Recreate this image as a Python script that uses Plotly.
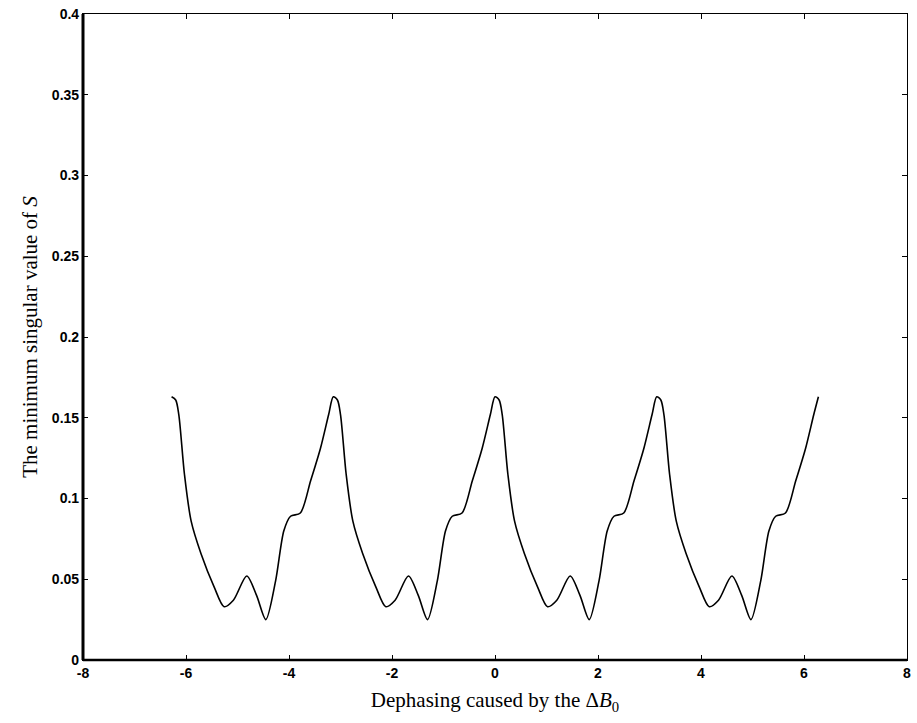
import plotly.graph_objects as go

# Values (peaks at multiples of pi)
x_vals = [
    -6.28, -6.20, -6.14, -6.03, -5.90, -5.71, -5.45, -5.26, -5.08, -4.82, -4.63, -4.45, -4.26, -4.10, -3.97, -3.78, -3.58, -3.39, -3.23,
    -3.14, -3.06, -3.00, -2.89, -2.76, -2.57, -2.31, -2.12, -1.94, -1.68, -1.49, -1.31, -1.12, -0.96, -0.83, -0.64, -0.44, -0.25, -0.09,
    0.00, 0.08, 0.14, 0.25, 0.38, 0.57, 0.83, 1.02, 1.20, 1.46, 1.65, 1.83, 2.02, 2.18, 2.31, 2.50, 2.70, 2.89, 3.05,
    3.14, 3.22, 3.28, 3.39, 3.52, 3.71, 3.97, 4.16, 4.34, 4.60, 4.79, 4.97, 5.16, 5.32, 5.45, 5.64, 5.84, 6.03, 6.19,
    6.28,
]
y_vals = [
    0.163, 0.161, 0.152, 0.115, 0.086, 0.066, 0.045, 0.033, 0.037, 0.052, 0.040, 0.025, 0.049, 0.080, 0.089, 0.091, 0.111, 0.131, 0.152,
    0.163, 0.161, 0.152, 0.115, 0.086, 0.066, 0.045, 0.033, 0.037, 0.052, 0.040, 0.025, 0.049, 0.080, 0.089, 0.091, 0.111, 0.131, 0.152,
    0.163, 0.161, 0.152, 0.115, 0.086, 0.066, 0.045, 0.033, 0.037, 0.052, 0.040, 0.025, 0.049, 0.080, 0.089, 0.091, 0.111, 0.131, 0.152,
    0.163, 0.161, 0.152, 0.115, 0.086, 0.066, 0.045, 0.033, 0.037, 0.052, 0.040, 0.025, 0.049, 0.080, 0.089, 0.091, 0.111, 0.131, 0.152,
    0.163,
]

x_ticks = [-8, -6, -4, -2, 0, 2, 4, 6, 8]
y_ticks = [0, 0.05, 0.1, 0.15, 0.2, 0.25, 0.3, 0.35, 0.4]
y_tick_labels = ["0", "0.05", "0.1", "0.15", "0.2", "0.25", "0.3", "0.35", "0.4"]

fig = go.Figure()
fig.add_trace(go.Scatter(
    x=x_vals, y=y_vals, mode="lines",
    line=dict(color="black", width=1.6, shape="spline", smoothing=0.8),
    showlegend=False,
))

tickfont = dict(family="Liberation Sans, Arial", size=14, color="black", weight="bold")
fig.update_xaxes(
    range=[-8, 8], tickvals=x_ticks, ticktext=[str(v) for v in x_ticks],
    ticks="inside", ticklen=5, tickwidth=1, tickcolor="black",
    showline=True, linecolor="black", linewidth=1.2, mirror="ticks",
    showgrid=False, zeroline=False, tickfont=tickfont,
    title=dict(text="Dephasing caused by the Δ<i>B</i><sub>0</sub>",
               font=dict(family="Liberation Serif, DejaVu Serif", size=21, color="black"),
               standoff=12),
)
fig.update_yaxes(
    range=[0, 0.4], tickvals=y_ticks, ticktext=y_tick_labels,
    ticks="inside", ticklen=5, tickwidth=1, tickcolor="black",
    showline=True, linecolor="black", linewidth=1.2, mirror="ticks",
    showgrid=False, zeroline=False, tickfont=tickfont,
    title=dict(text="The minimum singular value of <i>S</i>",
               font=dict(family="Liberation Serif, DejaVu Serif", size=21, color="black"),
               standoff=8),
)

# thicker left and bottom axis lines
fig.add_shape(type="line", xref="paper", yref="paper", x0=0, x1=0, y0=0, y1=1,
              line=dict(color="black", width=3))
fig.add_shape(type="line", xref="paper", yref="paper", x0=0, x1=1, y0=0, y1=0,
              line=dict(color="black", width=2.5))

fig.update_layout(
    width=917, height=723,
    margin=dict(l=83, r=6, t=10, b=63),
    paper_bgcolor="white", plot_bgcolor="white",
)

fig.write_html("out.html")
